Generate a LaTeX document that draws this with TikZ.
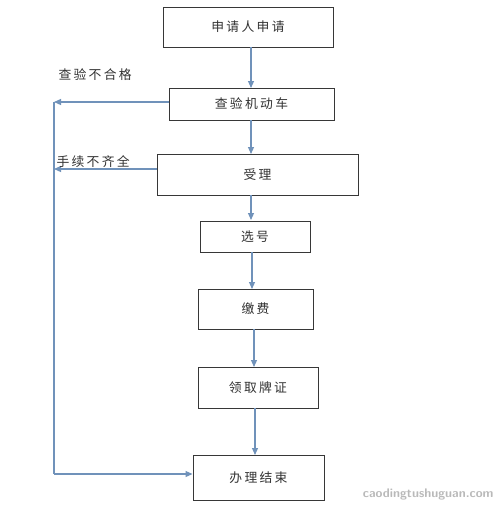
\documentclass[tikz,border=0pt]{standalone}
\usepackage{fontspec}
\newfontfamily\cjk[LetterSpace=18]{Noto Sans CJK SC}
\usetikzlibrary{arrows.meta}
\definecolor{lineblue}{RGB}{112,146,186}
\definecolor{boxgray}{RGB}{55,55,55}
\definecolor{txtgray}{RGB}{50,50,50}
\tikzset{
  stepbox/.style={draw=boxgray, line width=1pt, inner sep=0pt, fill=white},
  flow/.style={draw=lineblue, line width=1.1pt, -{Triangle[length=7pt,width=6pt]}},
  seg/.style={draw=lineblue, line width=1.1pt},
  lbl/.style={font=\cjk\fontsize{12.8}{15}\selectfont, text=txtgray},
}
\begin{document}
\begin{tikzpicture}[x=1pt,y=-1pt]
\useasboundingbox (0,0) rectangle (500,507);
\fill[white] (0,0) rectangle (500,507);
\node[stepbox, minimum width=170pt, minimum height=40pt, lbl] (b1) at (248,27) {申请人申请};
\node[stepbox, minimum width=165pt, minimum height=32pt, lbl] (b2) at (251.5,104) {查验机动车};
\node[stepbox, minimum width=201pt, minimum height=41pt, lbl] (b3) at (257.5,174.5) {受理};
\node[stepbox, minimum width=110pt, minimum height=31pt, lbl] (b4) at (255,236.5) {选号};
\node[stepbox, minimum width=115pt, minimum height=40pt, lbl] (b5) at (255.5,309) {缴费};
\node[stepbox, minimum width=120pt, minimum height=41pt, lbl] (b6) at (258,387.5) {领取牌证};
\node[stepbox, minimum width=131pt, minimum height=45pt, lbl] (b7) at (258.5,477.5) {办理结束};
% vertical flow
\draw[flow] (251,47) -- (251,88);
\draw[flow] (251,120) -- (251,154);
\draw[flow] (251,195) -- (251,220);
\draw[flow] (252,252) -- (252,289);
\draw[flow] (254,329) -- (254,367);
\draw[flow] (255,408) -- (255,455);
% left return lines
\coordinate (l1) at (54,102);
\coordinate (l2) at (54,169);
\coordinate (l3) at (54,474);
\draw[flow] (b2.west |- l1) -- (l1);
\draw[flow] (b3.west |- l2) -- (l2);
\draw[seg] (l1) -- (l3);
\draw[flow] (l3) -- (b7.west |- l3);
% labels
\node[lbl, anchor=west] (t1) at (55,75) {查验不合格};
\node[lbl, anchor=west] (t2) at (53,162) {手续不齐全};
% watermark
\node[font=\fontsize{12.5}{14}\selectfont\bfseries\sffamily, text=gray!55, anchor=east] (wm) at (497,494) {caodingtushuguan.com};
\end{tikzpicture}
\end{document}
